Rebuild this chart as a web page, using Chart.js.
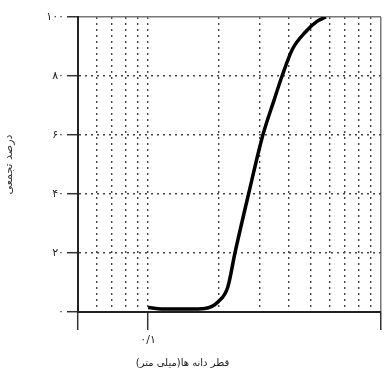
<!DOCTYPE html>
<html>
<head>
<meta charset="utf-8">
<script src="https://cdn.jsdelivr.net/npm/chart.js@4/dist/chart.umd.min.js"></script>
<style>
  html, body { margin: 0; padding: 0; background: #fff; }
  #wrap { width: 385px; height: 373px; }
</style>
</head>
<body>
<div id="wrap"><canvas id="dane"></canvas></div>
<script>
// قطر دانه ها (میلی متر) و درصد تجمعی
const qotr = [0.1, 0.12, 0.15, 0.175, 0.2, 0.22, 0.236, 0.27, 0.311, 0.348, 0.376, 0.416, 0.475, 0.531, 0.58];
const darsad = [1.5, 1, 1, 1.2, 3.5, 8.5, 20, 40, 60, 72, 80, 89, 95, 98.5, 100];

const xTicks = [0.05, 0.06, 0.07, 0.08, 0.09, 0.1, 0.2, 0.3, 0.4, 0.5, 0.6, 0.7, 0.8, 0.9, 1];
const xTickLabels = { 0.1: '۰/۱' };
const yTickLabels = { 0: '۰', 20: '۲۰', 40: '۴۰', 60: '۶۰', 80: '۸۰', 100: '۱۰۰' };

const xTitle = 'قطر دانه ها(میلی متر)';
const yTitle = 'درصد تجمعی';

const font = { family: 'DejaVu Sans', size: 11 };
const dots = [2, 4];

// عنوان محور افقی، کمی چپ تر از وسط مثل تصویر اصلی
const xTitlePlugin = {
    id: 'xTitle',
    afterDraw(chart) {
        const ctx = chart.ctx;
        ctx.save();
        ctx.direction = 'rtl';
        ctx.font = '10px "DejaVu Sans"';
        ctx.fillStyle = '#222';
        ctx.textBaseline = 'middle';
        ctx.textAlign = 'center';
        ctx.fillText(xTitle, chart.width / 2 - 10, chart.height - 10);
        ctx.restore();
    }
};

new Chart(document.getElementById('dane'), {
    type: 'scatter',
    data: {
        datasets: [{
            data: qotr.map((x, i) => ({ x: x, y: darsad[i] })),
            showLine: true,
            borderColor: '#000',
            borderWidth: 3.5,
            pointRadius: 0,
            cubicInterpolationMode: 'monotone'
        }]
    },
    plugins: [xTitlePlugin],
    options: {
        responsive: true,
        maintainAspectRatio: false,
        animation: false,
        layout: { padding: { top: 17, right: 3, left: 0, bottom: 21 } },
        plugins: {
            legend: { display: false },
            tooltip: { enabled: false },
            title: { display: false }
        },
        scales: {
            x: {
                type: 'logarithmic',
                min: 0.05,
                max: 1,
                afterBuildTicks: s => { s.ticks = xTicks.map(v => ({ value: v })); },
                afterFit: s => { s.height = 40; },
                ticks: {
                    autoSkip: false,
                    maxRotation: 0,
                    padding: 4,
                    color: '#222',
                    font: font,
                    callback: v => xTickLabels[v] || ''
                },
                grid: {
                    color: c => c.tick && c.tick.value === 1 ? '#777' : '#444',
                    lineWidth: c => c.tick && c.tick.value === 1 ? 1.5 : 1.4,
                    tickLength: 18,
                    tickColor: c => [0.05, 0.1, 1].includes(c.tick && c.tick.value) ? '#333' : 'rgba(0,0,0,0)',
                    tickWidth: 1.5
                },
                border: {
                    color: '#222',
                    width: 2,
                    dash: c => c.tick && c.tick.value === 1 ? [] : dots
                }
            },
            y: {
                min: 0,
                max: 100,
                afterBuildTicks: s => { s.ticks = Object.keys(yTickLabels).map(v => ({ value: +v })); },
                afterFit: s => { s.width = 78; },
                ticks: {
                    padding: 3,
                    color: '#222',
                    font: font,
                    callback: v => yTickLabels[v]
                },
                title: {
                    display: true,
                    text: yTitle,
                    color: '#333',
                    font: { family: 'DejaVu Sans', size: 11 },
                    padding: 3
                },
                grid: {
                    color: c => c.tick && c.tick.value === 100 ? '#777' : '#444',
                    lineWidth: c => c.tick && c.tick.value === 100 ? 1.5 : 1.4,
                    tickLength: 11,
                    tickColor: '#333',
                    tickWidth: 1.5
                },
                border: {
                    color: '#222',
                    width: 2,
                    dash: c => c.tick && c.tick.value === 100 ? [] : dots
                }
            }
        }
    }
});
</script>
</body>
</html>
